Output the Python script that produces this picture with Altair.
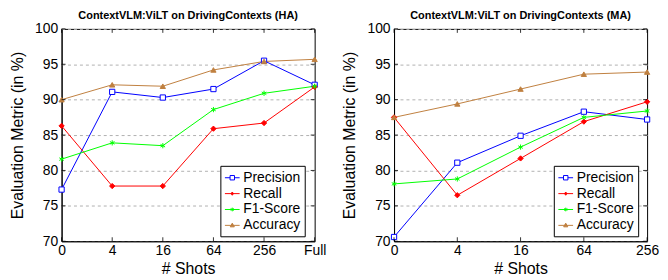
import altair as alt
import pandas as pd

metrics = ["Precision", "Recall", "F1-Score", "Accuracy"]
colors = ["#0000ff", "#ff0000", "#00ff00", "#bf8040"]
fills = ["#ffffff", "#ff0000", "#00ff00", "#bf8040"]

shots_ha = ["0", "4", "16", "64", "256", "Full"]
prec_ha = [77.3, 91.1, 90.3, 91.5, 95.5, 92.1]
rec_ha = [86.3, 77.8, 77.8, 85.9, 86.7, 91.8]
f1_ha = [81.6, 83.9, 83.5, 88.6, 90.9, 91.9]
acc_ha = [90.0, 92.1, 91.9, 94.2, 95.4, 95.7]

shots_ma = ["0", "4", "16", "64", "256"]
prec_ma = [70.6, 81.1, 84.9, 88.3, 87.2]
rec_ma = [87.5, 76.5, 81.7, 86.9, 89.7]
f1_ma = [78.1, 78.8, 83.3, 87.5, 88.4]
acc_ma = [87.5, 89.4, 91.5, 93.6, 93.9]

y_ticks = [70, 75, 80, 85, 90, 95, 100]

FONT = "Liberation Sans"

W, H = 255, 214

point_shapes = [
    "square",
    "diamond",
    "M0,-1V1M-0.87,-0.5L0.87,0.5M-0.87,0.5L0.87,-0.5",
    "triangle-up",
]
legend_shapes = [
    "M-1,0H-0.3M0.3,0H1M-0.3,-0.3H0.3V0.3H-0.3Z",
    "M-1,0H1M0,-0.22L0.16,0L0,0.22L-0.16,0Z",
    "M-1,0H1M0,-0.25V0.25M-0.22,-0.13L0.22,0.13M-0.22,0.13L0.22,-0.13",
    "M-1,0H1M0,-0.3L0.28,0.2H-0.28Z",
]


def make_df(shots, series):
    rows = []
    for m, vals in zip(metrics, series):
        for s, v in zip(shots, vals):
            rows.append({"shots": s, "metric": m, "value": v})
    return pd.DataFrame(rows)


def panel(df, shots, title, lx, ly):
    leg = alt.Legend(
        title=None, orient="none", legendX=lx, legendY=ly,
        labelFont=FONT, labelFontSize=14, labelColor="black",
        strokeColor="black", fillColor="white", padding=4,
        symbolSize=220, symbolStrokeWidth=1, rowPadding=1,
        labelOffset=3, cornerRadius=0, symbolOpacity=1,
    )
    xenc = alt.X("shots:N", sort=shots,
                 scale=alt.Scale(type="point", padding=0),
                 axis=alt.Axis(title="# Shots", labelAngle=0, ticks=False,
                               labelPadding=2, titlePadding=4, grid=False))
    yenc = alt.Y("value:Q", scale=alt.Scale(domain=[70, 100], nice=False, zero=False),
                 axis=alt.Axis(title="Evaluation Metric (in %)", values=y_ticks,
                               ticks=False, labelPadding=4, titlePadding=9,
                               grid=True, gridDash=[3, 3], gridColor="#b0b0b0"))
    base = alt.Chart(df).encode(x=xenc, y=yenc)
    lines = base.mark_line(strokeWidth=1).encode(
        color=alt.Color("metric:N", scale=alt.Scale(domain=metrics, range=colors), legend=None),
        detail="metric:N",
    )
    pts = base.mark_point(filled=False, strokeWidth=1, size=28, opacity=1).encode(
        color=alt.Color("metric:N", scale=alt.Scale(domain=metrics, range=colors), legend=None),
        fill=alt.Fill("metric:N", scale=alt.Scale(domain=metrics, range=fills), legend=None),
        shape=alt.Shape("metric:N", scale=alt.Scale(domain=metrics, range=point_shapes), legend=None),
    )
    lg = base.mark_point(filled=False, strokeWidth=1, opacity=0).encode(
        color=alt.Color("metric:N", scale=alt.Scale(domain=metrics, range=colors), legend=leg),
        fill=alt.Fill("metric:N", scale=alt.Scale(domain=metrics, range=fills), legend=leg),
        shape=alt.Shape("metric:N", scale=alt.Scale(domain=metrics, range=legend_shapes), legend=leg),
    )
    xt = alt.Chart(pd.DataFrame({"shots": shots}))
    xt_bot = xt.mark_rule(color="black", strokeWidth=0.8).encode(
        x=xenc, y=alt.value(H), y2=alt.value(H - 4))
    xt_top = xt.mark_rule(color="black", strokeWidth=0.8).encode(
        x=xenc, y=alt.value(0), y2=alt.value(4))
    yt = alt.Chart(pd.DataFrame({"value": y_ticks}))
    yt_l = yt.mark_rule(color="black", strokeWidth=0.8).encode(
        y=yenc, x=alt.value(0), x2=alt.value(4))
    yt_r = yt.mark_rule(color="black", strokeWidth=0.8).encode(
        y=yenc, x=alt.value(W - 4), x2=alt.value(W))
    return alt.layer(lines, pts, lg, xt_bot, xt_top, yt_l, yt_r).resolve_scale(
        color="independent", fill="independent", shape="independent"
    ).resolve_legend(
        color="independent", fill="independent", shape="independent"
    ).properties(
        width=W, height=H,
        title=alt.Title(title, font=FONT, fontSize=11, fontWeight="bold", offset=1, color="black"),
    )


df_ha = make_df(shots_ha, [prec_ha, rec_ha, f1_ha, acc_ha])
df_ma = make_df(shots_ma, [prec_ma, rec_ma, f1_ma, acc_ma])

left = panel(df_ha, shots_ha, "ContextVLM:ViLT on DrivingContexts (HA)", 160, 138)
right = panel(df_ma, shots_ma, "ContextVLM:ViLT on DrivingContexts (MA)", 161, 138)

chart = alt.hconcat(left, right, spacing=15).resolve_scale(
    color="independent", fill="independent", shape="independent"
).resolve_legend(
    color="independent", fill="independent", shape="independent"
).properties(
    padding={"left": 1, "top": 0, "right": 0, "bottom": 0}
).configure_view(
    stroke="black", strokeWidth=1
).configure_axis(
    labelFont=FONT, labelFontSize=14, labelColor="black",
    titleFont=FONT, titleFontSize=16, titleFontWeight="normal", titleColor="black",
    domainColor="black",
).configure_title(
    font=FONT
).configure_legend(
    labelFont=FONT
)

chart.save("out.html", embed_options={"renderer": "svg", "actions": False})
